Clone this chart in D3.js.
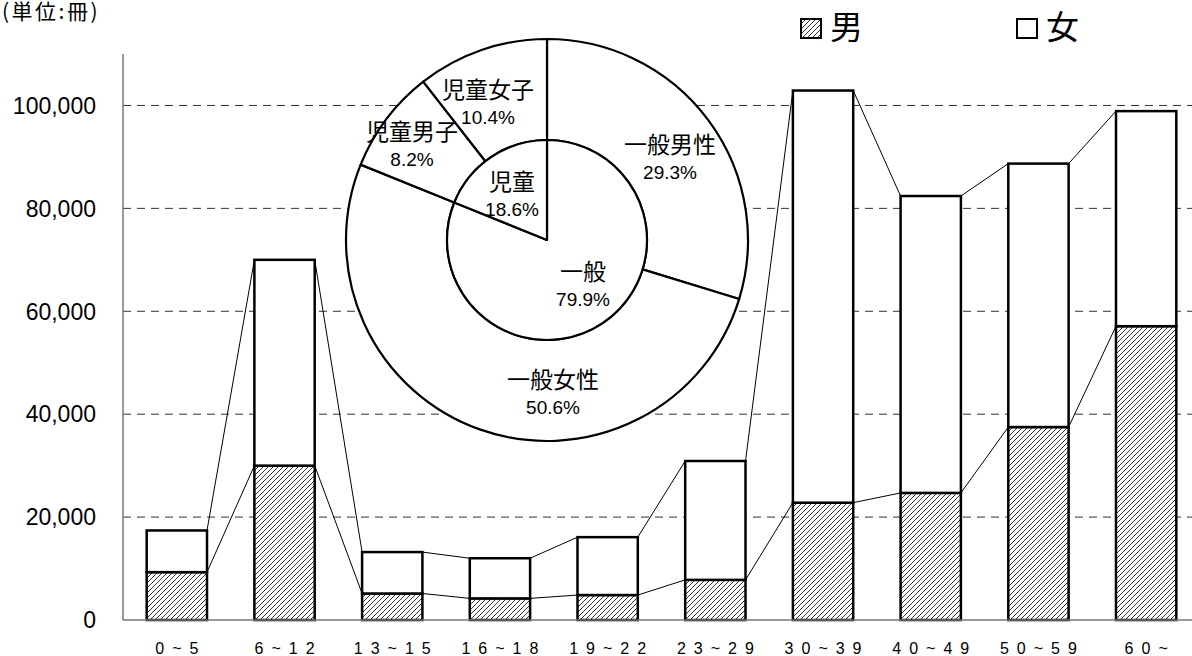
<!DOCTYPE html>
<html lang="ja">
<head>
<meta charset="utf-8">
<title>年齢別貸出冊数</title>
<script src="https://cdn.jsdelivr.net/npm/d3@7"></script>
<style>
  body { margin: 0; background: #fff; }
  svg { display: block; }
  .tick-label { font-family: "Liberation Sans", Arial, sans-serif; font-size: 23px; fill: #000; }
  .cat-label { font-family: "Liberation Sans", Arial, sans-serif; font-size: 16px; letter-spacing: 8px; fill: #000; }
  .jp { font-family: "Noto Sans CJK JP", sans-serif; fill: #000; }
  .pct { font-family: "Liberation Sans", Arial, sans-serif; font-size: 19px; fill: #000; }
</style>
</head>
<body>
<div id="wrapper"></div>
<script>
// bar chart data (冊)
const ageGroups = ["0~5", "6~12", "13~15", "16~18", "19~22", "23~29", "30~39", "40~49", "50~59", "60~"];
const maleBooks = [9300, 30000, 5150, 4200, 4850, 7800, 22800, 24700, 37500, 57100];
const femaleBooks = [8100, 40000, 8050, 7800, 11250, 23100, 80100, 57700, 51200, 41800];
const yTicks = [0, 20000, 40000, 60000, 80000, 100000];

// pie data (%)
const innerNames = ["一般", "児童"];
const innerShares = [79.9, 18.6];
const outerNames = ["一般男性", "一般女性", "児童男子", "児童女子"];
const outerShares = [29.3, 50.6, 8.2, 10.4];

// label placement relative to pie centre (layout only)
const innerLabelPos = [[36, 32], [-35, -58]];
const outerLabelPos = [[123, -95], [6, 140], [-135, -108], [-59, -150]];

const width = 1192, height = 656;
const margin = {top: 54, left: 123, bottom: 36};

const svg = d3.select("#wrapper").append("svg")
    .attr("width", width)
    .attr("height", height);

const defs = svg.append("defs");
const hatch = defs.append("pattern")
    .attr("id", "hatch")
    .attr("patternUnits", "userSpaceOnUse")
    .attr("width", 5)
    .attr("height", 5);
hatch.append("rect").attr("width", 5).attr("height", 5).attr("fill", "#fff");
hatch.append("path")
    .attr("d", "M-1,1 l2,-2 M0,5 l5,-5 M4,6 l2,-2")
    .attr("stroke", "#333")
    .attr("stroke-width", 1);

const x = d3.scaleBand()
    .domain(ageGroups)
    .range([margin.left, 1200])
    .paddingInner(0.44)
    .paddingOuter(0.22);

const y = d3.scaleLinear()
    .domain([0, 110000])
    .range([height - margin.bottom, margin.top]);

// gridlines
svg.append("g")
    .selectAll("line")
    .data(yTicks.filter(d => d > 0))
    .join("line")
    .attr("x1", margin.left)
    .attr("x2", width)
    .attr("y1", d => y(d))
    .attr("y2", d => y(d))
    .attr("stroke", "#333")
    .attr("stroke-width", 1)
    .attr("stroke-dasharray", "8,6");

const table = ageGroups.map((g, i) => ({group: g, male: maleBooks[i], female: femaleBooks[i]}));
const series = d3.stack().keys(["male", "female"])(table);

// series lines between bars
series.forEach(layer => {
    const pts = [];
    layer.forEach((d, i) => {
        if (i > 0) pts.push({x1: x(ageGroups[i - 1]) + x.bandwidth(), y1: y(layer[i - 1][1]), x2: x(ageGroups[i]), y2: y(d[1])});
    });
    svg.append("g")
        .selectAll("line")
        .data(pts)
        .join("line")
        .attr("x1", d => d.x1).attr("y1", d => d.y1)
        .attr("x2", d => d.x2).attr("y2", d => d.y2)
        .attr("stroke", "#000")
        .attr("stroke-width", 1);
});

// bars
svg.append("g")
    .selectAll("g")
    .data(series)
    .join("g")
    .attr("fill", d => d.key === "male" ? "url(#hatch)" : "#fff")
    .selectAll("rect")
    .data(d => d)
    .join("rect")
    .attr("x", d => x(d.data.group))
    .attr("y", d => y(d[1]))
    .attr("width", x.bandwidth())
    .attr("height", d => y(d[0]) - y(d[1]))
    .attr("stroke", "#000")
    .attr("stroke-width", 2.5);

// axes
svg.append("line")
    .attr("x1", margin.left).attr("x2", margin.left)
    .attr("y1", margin.top).attr("y2", y(0))
    .attr("stroke", "#777").attr("stroke-width", 1.5);
svg.append("line")
    .attr("x1", margin.left).attr("x2", width)
    .attr("y1", y(0)).attr("y2", y(0))
    .attr("stroke", "#777").attr("stroke-width", 1.5);

svg.append("g")
    .selectAll("text")
    .data(yTicks)
    .join("text")
    .attr("class", "tick-label")
    .attr("x", 96)
    .attr("y", d => y(d))
    .attr("dy", "0.36em")
    .attr("text-anchor", "end")
    .text(d3.format(","));

svg.append("g")
    .selectAll("text")
    .data(ageGroups)
    .join("text")
    .attr("class", "cat-label")
    .attr("x", d => x(d) + x.bandwidth() / 2 + 4)
    .attr("y", 654)
    .attr("text-anchor", "middle")
    .text(d => d);

// unit note
svg.append("text")
    .attr("class", "jp")
    .attr("x", 2)
    .attr("y", 19)
    .style("font-size", "21px")
    .style("letter-spacing", "2.5px")
    .text("(単位:冊)");

// legend
const legend = svg.append("g");
[["url(#hatch)", "男", 801, 830], ["#fff", "女", 1017, 1046]].forEach(([fill, name, bx, tx]) => {
    legend.append("rect")
        .attr("x", bx).attr("y", 19)
        .attr("width", 20).attr("height", 19)
        .attr("fill", fill)
        .attr("stroke", "#000")
        .attr("stroke-width", 2);
    legend.append("text")
        .attr("class", "jp")
        .attr("x", tx)
        .attr("y", 39)
        .style("font-size", "33px")
        .text(name);
});

// pie
const cx = 547, cy = 240, rInner = 100, rOuter = 201;
const pie = d3.pie().sort(null).value(d => d);
const pieG = svg.append("g").attr("transform", `translate(${cx},${cy})`);

const outerArc = d3.arc().innerRadius(rInner).outerRadius(rOuter);
const innerArc = d3.arc().innerRadius(0).outerRadius(rInner);

pieG.append("g")
    .selectAll("path")
    .data(pie(outerShares))
    .join("path")
    .attr("d", outerArc)
    .attr("fill", "#fff")
    .attr("stroke", "#000")
    .attr("stroke-width", 2.2)
    .attr("stroke-linejoin", "round");

pieG.append("g")
    .selectAll("path")
    .data(pie(innerShares))
    .join("path")
    .attr("d", innerArc)
    .attr("fill", "#fff")
    .attr("stroke", "#000")
    .attr("stroke-width", 2.2)
    .attr("stroke-linejoin", "round");

function pieLabels(names, shares, pos) {
    const g = pieG.append("g");
    names.forEach((n, i) => {
        g.append("text")
            .attr("class", "jp")
            .attr("x", pos[i][0])
            .attr("y", pos[i][1])
            .attr("dy", "0.35em")
            .attr("text-anchor", "middle")
            .style("font-size", "23px")
            .text(n);
        g.append("text")
            .attr("class", "pct")
            .attr("x", pos[i][0])
            .attr("y", pos[i][1] + 27)
            .attr("dy", "0.35em")
            .attr("text-anchor", "middle")
            .text(d3.format(".1f")(shares[i]) + "%");
    });
}
pieLabels(outerNames, outerShares, outerLabelPos);
pieLabels(innerNames, innerShares, innerLabelPos);
</script>
</body>
</html>
